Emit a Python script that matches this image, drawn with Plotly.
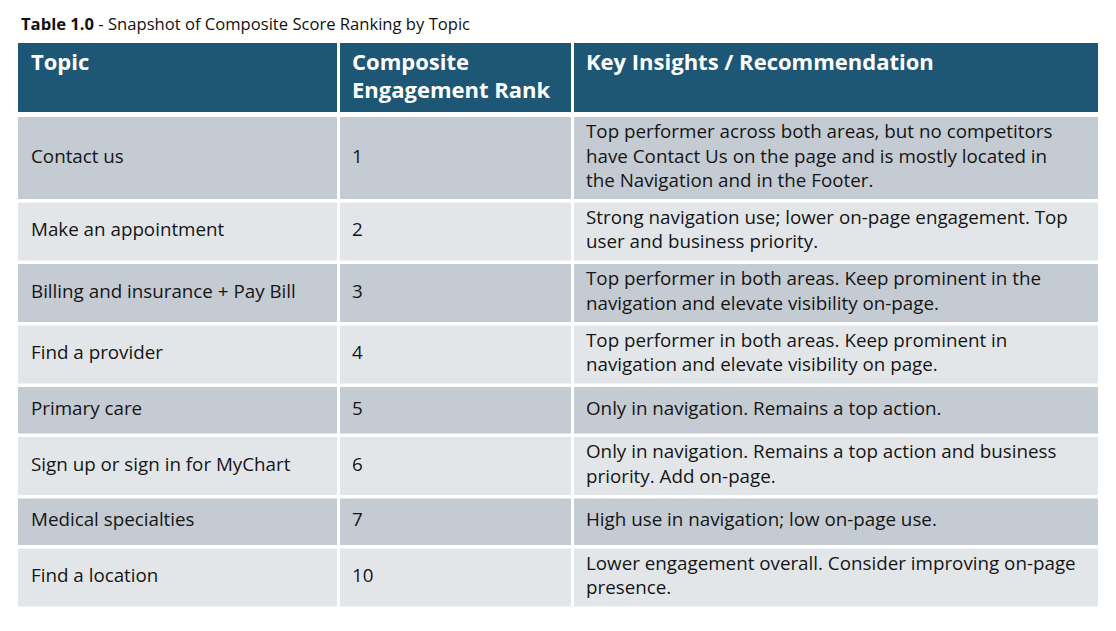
import plotly.graph_objects as go

# ---- data -------------------------------------------------------------
title_bold = "Table 1.0"
title_rest = " - Snapshot of Composite Score Ranking by Topic"

headers = ["Topic", "Composite<br>Engagement Rank", "Key Insights / Recommendation"]

topics = [
    "Contact us",
    "Make an appointment",
    "Billing and insurance + Pay Bill",
    "Find a provider",
    "Primary care",
    "Sign up or sign in for MyChart",
    "Medical specialties",
    "Find a location",
]

ranks = [1, 2, 3, 4, 5, 6, 7, 10]

insights = [
    "Top performer across both areas, but no competitors<br>"
    "have Contact Us on the page and is mostly located in<br>"
    "the Navigation and in the Footer.",
    "Strong navigation use; lower on-page engagement. Top<br>"
    "user and business priority.",
    "Top performer in both areas. Keep prominent in the<br>"
    "navigation and elevate visibility on-page.",
    "Top performer in both areas. Keep prominent in<br>"
    "navigation and elevate visibility on page.",
    "Only in navigation. Remains a top action.",
    "Only in navigation. Remains a top action and business<br>"
    "priority. Add on-page.",
    "High use in navigation; low on-page use.",
    "Lower engagement overall. Consider improving on-page<br>"
    "presence.",
]

# ---- layout constants (page pixels) ----------------------------------
PAGE_OFF = 8  # default body margin of the html page
FIG_W, FIG_H = 1100, 615
FONT = "Open Sans"
HEAD_BG = "#1d5775"
ROW_BG = ["#c5cbd2", "#e3e6e9"]
TEXT = "#151515"

col_left = [18, 340, 574]
col_width = [319, 231, 524]
col_pad = [13, 12, 12]
head_top, head_bot = 43, 112
body_top = 117
gap = 3.5
line_h = 24

n_lines = [s.count("<br>") + 1 for s in insights]
pitch = [max(50, 13.5 + line_h * n) for n in n_lines]
tops = []
y = body_top
for p in pitch:
    tops.append(y)
    y += p
heights = [p - gap for p in pitch]
centers = [t + h / 2 for t, h in zip(tops, heights)]
fills = [ROW_BG[i % 2] for i in range(len(topics))]

columns = [topics, [str(r) for r in ranks], insights]

fig = go.Figure()

# header cells
fig.add_trace(
    go.Bar(
        orientation="h",
        base=col_left,
        x=col_width,
        y=[(head_top + head_bot) / 2] * 3,
        width=[head_bot - head_top] * 3,
        marker=dict(color=HEAD_BG, line=dict(width=0)),
        hoverinfo="skip",
    )
)

# body cells, one trace per column
for c in range(3):
    fig.add_trace(
        go.Bar(
            orientation="h",
            base=[col_left[c]] * len(topics),
            x=[col_width[c]] * len(topics),
            y=centers,
            width=heights,
            marker=dict(color=fills, line=dict(width=0)),
            hoverinfo="skip",
        )
    )

# header text
fig.add_trace(
    go.Scatter(
        x=[l + p for l, p in zip(col_left, col_pad)],
        y=[head_top + 10] * 3,
        text=[f"<b>{h}</b>" for h in headers],
        mode="text",
        textposition="bottom right",
        textfont=dict(family=FONT, size=22, color="white"),
        hoverinfo="skip",
    )
)

# body text
for c in range(3):
    fig.add_trace(
        go.Scatter(
            x=[col_left[c] + col_pad[c]] * len(topics),
            y=centers,
            text=columns[c],
            mode="text",
            textposition="middle right",
            textfont=dict(family=FONT, size=18.8, color=TEXT),
            hoverinfo="skip",
        )
    )

fig.add_annotation(
    x=19,
    y=23,
    xref="x",
    yref="y",
    xanchor="left",
    yanchor="middle",
    showarrow=False,
    text=f"<b>{title_bold}</b>{title_rest}",
    font=dict(family=FONT, size=16.6, color="#111111"),
)

fig.update_layout(
    width=FIG_W,
    height=FIG_H,
    margin=dict(l=0, r=0, t=0, b=0),
    paper_bgcolor="white",
    plot_bgcolor="white",
    showlegend=False,
    barmode="overlay",
    xaxis=dict(range=[PAGE_OFF, PAGE_OFF + FIG_W], visible=False, fixedrange=True),
    yaxis=dict(range=[PAGE_OFF + FIG_H, PAGE_OFF], visible=False, fixedrange=True),
)

fig.write_html("out.html", config={"displayModeBar": False})
